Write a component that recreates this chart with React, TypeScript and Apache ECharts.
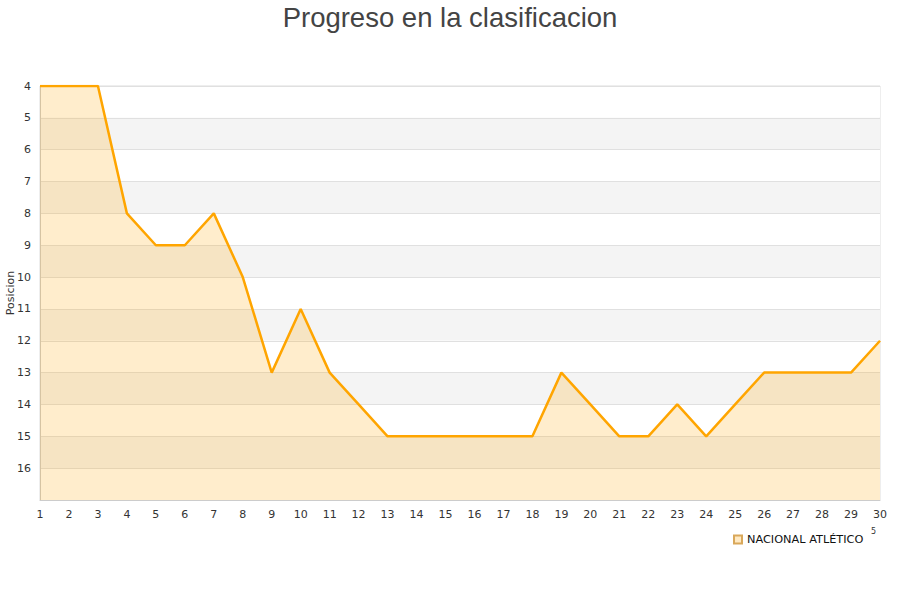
import React, { useEffect, useRef } from "react";
import * as echarts from "echarts";

const jornadas = ["1","2","3","4","5","6","7","8","9","10","11","12","13","14","15","16","17","18","19","20","21","22","23","24","25","26","27","28","29","30"];
const posiciones = [4,4,4,8,9,9,8,10,13,11,13,14,15,15,15,15,15,15,13,14,15,15,14,15,14,13,13,13,13,12];
const equipo = "NACIONAL ATLÉTICO";
const titulo = "Progreso en la clasificacion";

export default function App() {
  const ref = useRef<HTMLDivElement>(null);
  useEffect(() => {
    const chart = echarts.init(ref.current!, null, { renderer: "svg" });
    chart.setOption({
      animation: false,
      backgroundColor: "#ffffff",
      title: {
        text: titulo,
        left: "center",
        top: -2,
        textStyle: { fontFamily: "Liberation Sans", fontSize: 27.5, fontWeight: "normal", color: "#444444" },
      },
      legend: {
        data: [{ name: equipo, icon: "rect" }],
        left: 728,
        top: 529,
        itemWidth: 8,
        itemHeight: 8,
        itemGap: 6,
        textStyle: { fontFamily: "DejaVu Sans", fontSize: 11.3, color: "#111111" },
      },
      graphic: [
        { type: "text", left: 871, top: 527, style: { text: "5", fontFamily: "DejaVu Sans", fontSize: 8, fill: "#333" } },
      ],
      grid: { left: 40, right: 20, top: 86, bottom: 100, show: true, borderColor: "#dddddd", borderWidth: 1, backgroundColor: "transparent", outerBoundsMode: "none", containLabel: false },
      xAxis: {
        type: "category",
        data: jornadas,
        boundaryGap: false,
        axisLine: { show: true, lineStyle: { color: "#cccccc" } },
        axisTick: { show: false },
        axisLabel: { fontFamily: "DejaVu Sans", fontSize: 11, color: "#333333", margin: 9, interval: 0 },
        splitLine: { show: false },
      },
      yAxis: {
        type: "value",
        inverse: true,
        min: 4,
        max: 17,
        interval: 1,
        name: "Posicion",
        nameLocation: "middle",
        nameGap: 24,
        nameRotate: 90,
        nameMoveOverlap: false,
        nameTextStyle: { fontFamily: "DejaVu Sans", fontSize: 11, color: "#333333" },
        axisLine: { show: true, lineStyle: { color: "#cccccc" } },
        axisTick: { show: false },
        axisLabel: {
          fontFamily: "DejaVu Sans",
          fontSize: 11,
          color: "#333333",
          margin: 9,
          formatter: (v: number) => (v === 17 ? "" : String(v)),
        },
        splitLine: { show: true, lineStyle: { color: "#e0e0e0" } },
        splitArea: { show: true, areaStyle: { color: ["#ffffff", "#f4f4f4"] } },
      },
      series: [
        {
          name: equipo,
          type: "line",
          data: posiciones,
          showSymbol: false,
          symbol: "none",
          lineStyle: { color: "#FFA500", width: 2.5 },
          itemStyle: { color: "#FFE9C2", borderColor: "#D9A85A", borderWidth: 1 },
          areaStyle: { color: "#FFA500", opacity: 0.2, origin: "end" },
        },
      ],
    });
    return () => chart.dispose();
  }, []);
  return <div ref={ref} style={{ width: 900, height: 600, position: "absolute", left: 0, top: 0 }} />;
}
